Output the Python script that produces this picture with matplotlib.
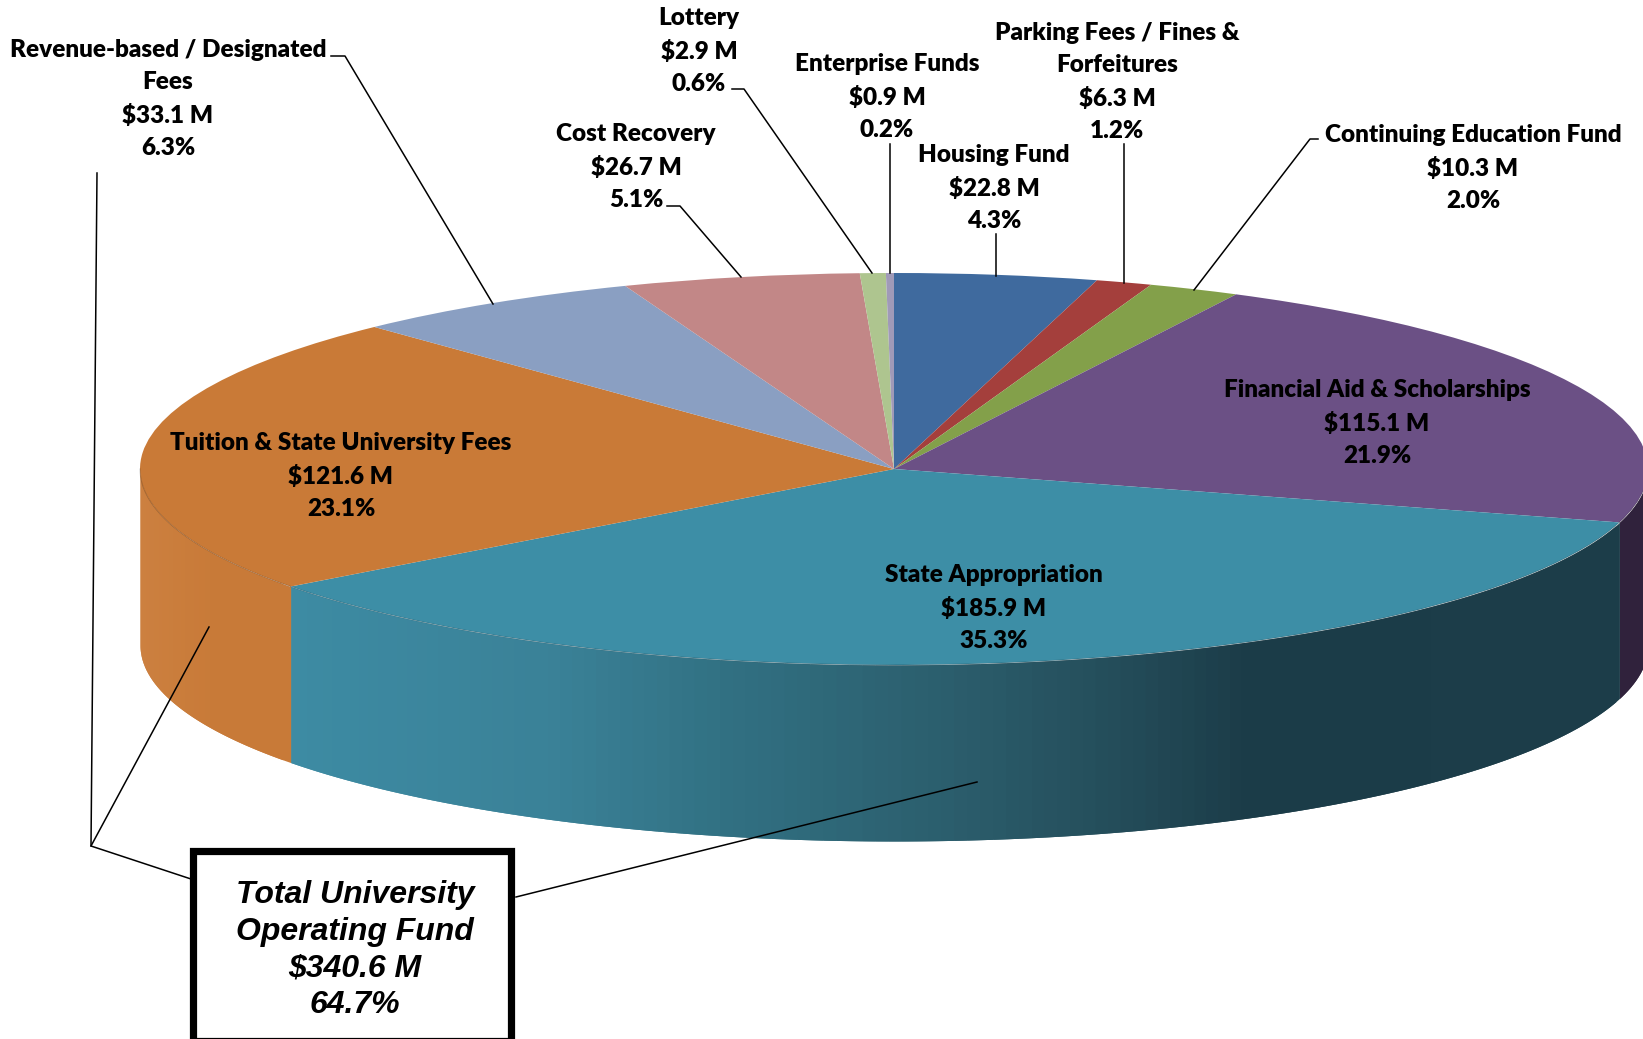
import numpy as np
import matplotlib
matplotlib.use("Agg")
import matplotlib.pyplot as plt
from matplotlib.colors import LinearSegmentedColormap
from matplotlib.patches import Rectangle

W, H = 1643, 1039

names = ["Housing Fund", "Parking Fees / Fines &\nForfeitures", "Continuing Education Fund",
         "Financial Aid & Scholarships", "State Appropriation", "Tuition & State University Fees",
         "Revenue-based / Designated\nFees", "Cost Recovery", "Lottery", "Enterprise Funds"]
millions = [22.8, 6.3, 10.3, 115.1, 185.9, 121.6, 33.1, 26.7, 2.9, 0.9]
percents = [4.3, 1.2, 2.0, 21.9, 35.3, 23.1, 6.3, 5.1, 0.6, 0.2]
colors = ["#3f6a9e", "#a43f3c", "#83a04a", "#6b5085", "#3d8ea6", "#c97a37",
          "#8a9fc2", "#c28787", "#aec58f", "#a09ab8"]

# centre of each label block, in pixels
label_x = [994, 1117, 1473, 1377, 994, 341, 168, 636, 699, 887]
label_y = [188, 82, 168, 423, 608, 476, 99, 167, 51, 97]

# leader lines, in pixels
leaders = [
    [(996, 234), (996, 276)],
    [(1124, 144), (1124, 283)],
    [(1318, 139), (1310, 139), (1194, 290)],
    [(331, 56), (345, 56), (493, 304)],
    [(667, 206), (680, 206), (741, 277)],
    [(732, 89), (744, 89), (872, 273)],
    [(890, 144), (890, 273)],
    [(97, 173), (91, 846), (191, 879)],
    [(91, 846), (209, 627)],
    [(516, 897), (977, 782)],
]

total_lines = ["Total University", "Operating Fund", "$340.6 M", "64.7%"]

# ellipse of the pie top, in pixels
cx, cy, rx, ry = 894, 469, 754, 196
depth = 176

teal_wall = LinearSegmentedColormap.from_list("teal", [(0, "#3d8ba3"), (0.2, "#3a8197"), (0.33, "#317082"),
                                                       (0.5, "#2b5d6c"), (0.62, "#244d5a"), (0.72, "#1b3c48"),
                                                       (1, "#1c3d49")])
orange_wall = LinearSegmentedColormap.from_list("orange", ["#cc8040", "#c87a38", "#c87a38"])

fig = plt.figure(figsize=(W / 100, H / 100), dpi=100)

# the pie lives in a unit circle, the axes limits squash it into the ellipse
ax = fig.add_axes([0, 0, 1, 1])
wedges, _ = ax.pie(millions, colors=colors, startangle=90, counterclock=False,
                   wedgeprops={"linewidth": 0, "zorder": 2})
ax.set_aspect("auto")
ax.set_xlim(-cx / rx, (W - cx) / rx)
ax.set_ylim((cy - H) / ry, cy / ry)

d = depth / ry
edges = np.cumsum([0] + millions) / sum(millions) * 360
for i in range(len(millions)):
    a0, a1 = max(edges[i], 90), min(edges[i + 1], 270)
    if a1 <= a0:
        continue
    a = np.radians(np.linspace(a0, a1, int(a1 - a0) + 2))
    for k in range(len(a) - 1):
        # each strip runs on under the next one so no seams show
        seg = np.linspace(a[k], a[min(k + 2, len(a) - 1)], 6)
        x = np.sin(seg)
        y = np.cos(seg)
        mid = np.sin(a[k:k + 2]).mean() * rx + cx
        if names[i] == "State Appropriation":
            c = teal_wall(np.interp(mid, [289, 1620], [0, 1]))
        elif names[i].startswith("Tuition"):
            c = orange_wall(np.interp(mid, [140, 289], [0, 1]))
        else:
            c = "#30223c"
        order = np.argsort(x)
        ax.fill_between(x[order], (y - d)[order], y[order], color=c, linewidth=0, zorder=1)
    # faint rim between top and side
    ax.plot(np.sin(a), np.cos(a), color="#000000", alpha=0.18, lw=0.8, zorder=3)

# overlay in pixel coordinates for the labels and leaders
ov = fig.add_axes([0, 0, 1, 1], facecolor="none")
ov.set_xlim(0, W)
ov.set_ylim(H, 0)
ov.axis("off")

for pts in leaders:
    ov.plot([p[0] for p in pts], [p[1] for p in pts], color="black", lw=1.1, zorder=4)

for i in range(len(names)):
    txt = f"{names[i]}\n${millions[i]} M\n{percents[i]:.1f}%"
    ov.text(label_x[i], label_y[i], txt, ha="center", va="center", family="Lato",
            fontweight="heavy", fontsize=17.5, linespacing=1.55, color="black", zorder=5)

ov.add_patch(Rectangle((192.5, 850.5), 318, 190.5, facecolor="white", edgecolor="black",
                       linewidth=5.2, zorder=6, clip_on=True))
ov.text(355, 950, "\n".join(total_lines), ha="center", va="center", family="Liberation Sans",
        fontweight="bold", fontstyle="italic", fontsize=23, linespacing=1.29, color="black", zorder=7)

fig.savefig("out.png", dpi=100)
